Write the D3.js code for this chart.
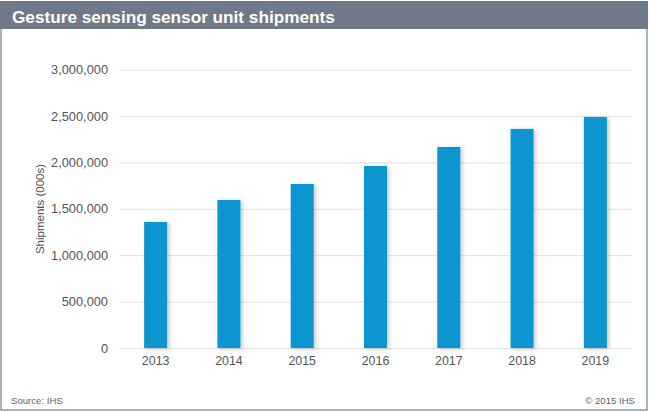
<!DOCTYPE html>
<html>
<head>
<meta charset="utf-8">
<script src="https://cdn.jsdelivr.net/npm/d3@7"></script>
<style>
  html, body { margin: 0; padding: 0; background: #fff; }
  svg { display: block; font-family: "Liberation Sans", Arial, sans-serif; }
  .domain { display: none; }
  .tick line { stroke: #e0e0e0; }
  .tick text { fill: #555; font-size: 12.8px; }
  .xaxis .tick text { font-size: 12.4px; }
</style>
</head>
<body>
<svg width="650" height="412"></svg>
<script>
const years = ["2013", "2014", "2015", "2016", "2017", "2018", "2019"];
const shipments = [1357000, 1594000, 1767000, 1960000, 2165000, 2360000, 2488000];
const yTicks = [0, 500000, 1000000, 1500000, 2000000, 2500000, 3000000];

const svg = d3.select("svg");
const margin = { top: 69.5, right: 18, bottom: 64, left: 119 };
const width = 650 - margin.left - margin.right;
const height = 412 - margin.top - margin.bottom;

// Bar drop shadow
const defs = svg.append("defs");
const blur = defs.append("filter").attr("id", "shadow")
    .attr("x", "-30%").attr("width", "170%").attr("y", "-5%").attr("height", "115%");
blur.append("feDropShadow")
    .attr("dx", 2).attr("dy", 1).attr("stdDeviation", 2)
    .attr("flood-color", "#000").attr("flood-opacity", 0.22);

// Frame and header
svg.append("rect")
    .attr("x", 1).attr("y", 4).attr("width", 646).attr("height", 406)
    .attr("fill", "#fff").attr("stroke", "#8f99a3").attr("stroke-width", 1.5);
svg.append("rect")
    .attr("x", 0).attr("y", 1).attr("width", 648).attr("height", 28)
    .attr("fill", "#6e7a88");
svg.append("text")
    .attr("x", 12).attr("y", 22.5)
    .attr("fill", "#fff").attr("font-size", 17.2).attr("font-weight", "bold")
    .text("Gesture sensing sensor unit shipments");

const g = svg.append("g")
    .attr("transform", "translate(" + margin.left + "," + margin.top + ")");

// Set ranges
const x = d3.scaleBand().domain(years).range([0, width]);
const y = d3.scaleLinear().domain([0, 3000000]).range([height, 0]);

// Draw y axis with gridlines
g.append("g")
    .call(d3.axisLeft(y).tickValues(yTicks).tickSize(-width).tickPadding(11)
        .tickFormat(d3.format(",")));

// Draw bars
g.selectAll(".bar")
    .data(shipments)
    .join("rect")
    .attr("class", "bar")
    .attr("x", (d, i) => x(years[i]) + (x.bandwidth() - 23) / 2)
    .attr("y", d => y(d))
    .attr("width", 23)
    .attr("height", d => height - y(d))
    .attr("fill", "#0795d0")
    .attr("filter", "url(#shadow)");

// Draw x axis
g.append("g")
    .attr("class", "xaxis")
    .attr("transform", "translate(0," + height + ")")
    .call(d3.axisBottom(x).tickSize(0).tickPadding(8));

// Axis label
svg.append("text")
    .attr("transform", "translate(43.5,209) rotate(-90)")
    .attr("text-anchor", "middle")
    .attr("fill", "#505050").attr("font-size", 11.5)
    .text("Shipments (000s)");

// Footer
svg.append("text")
    .attr("x", 11).attr("y", 404)
    .attr("fill", "#5a6470").attr("font-size", 9.6)
    .text("Source: IHS");
svg.append("text")
    .attr("x", 635).attr("y", 404).attr("text-anchor", "end")
    .attr("fill", "#5a6470").attr("font-size", 9.6)
    .text("© 2015 IHS");
</script>
</body>
</html>
